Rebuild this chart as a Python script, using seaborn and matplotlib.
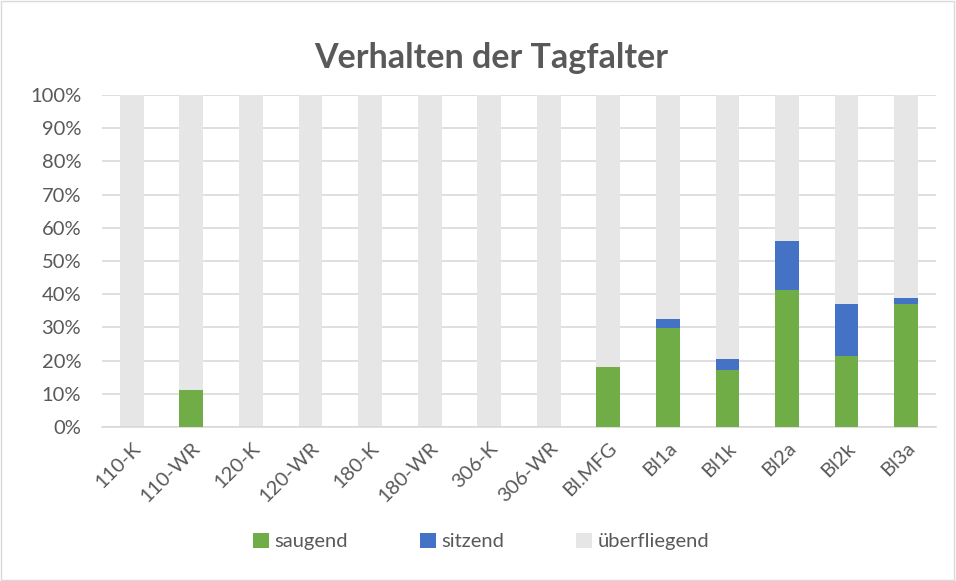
import matplotlib
matplotlib.use("Agg")
import matplotlib.pyplot as plt
import seaborn as sns
import pandas as pd
from matplotlib.patches import Patch, Rectangle
from matplotlib.ticker import PercentFormatter

categories = ["110-K", "110-WR", "120-K", "120-WR", "180-K", "180-WR", "306-K",
              "306-WR", "Bl.MFG", "Bl1a", "Bl1k", "Bl2a", "Bl2k", "Bl3a"]
saugend = [0, 11.1, 0, 0, 0, 0, 0, 0, 18.2, 29.9, 17.1, 41.4, 21.4, 37.1]
sitzend = [0, 0, 0, 0, 0, 0, 0, 0, 0, 2.6, 3.4, 14.7, 15.6, 1.8]
ueberfliegend = [100 - a - b for a, b in zip(saugend, sitzend)]

series_names = ["saugend", "sitzend", "überfliegend"]
colors = ["#70AD47", "#4472C4", "#E7E6E6"]

df = pd.DataFrame({"cat": categories, "saugend": saugend,
                   "sitzend": sitzend, "ueber": ueberfliegend})
df["cum2"] = df["saugend"] + df["sitzend"]
df["cum3"] = df["cum2"] + df["ueber"]

sns.set_theme(style="white")
plt.rcParams["font.family"] = ["Lato", "DejaVu Sans"]
text_col = "#595959"

fig = plt.figure(figsize=(9.56, 5.81), dpi=100)
ax = fig.add_axes([0.1067, 0.265, 0.8723, 0.5715])

w = 0.4
sns.barplot(data=df, x="cat", y="cum3", color=colors[2], width=w, ax=ax,
            saturation=1, linewidth=0, zorder=2)
sns.barplot(data=df, x="cat", y="cum2", color=colors[1], width=w, ax=ax,
            saturation=1, linewidth=0, zorder=3)
sns.barplot(data=df, x="cat", y="saugend", color=colors[0], width=w, ax=ax,
            saturation=1, linewidth=0, zorder=4)

ax.set_ylim(0, 100)
ax.set_xlim(-0.5, len(categories) - 0.5)
ax.set_yticks(range(0, 101, 10))
ax.yaxis.set_major_formatter(PercentFormatter(decimals=0))
ax.grid(axis="y", color="#D9D9D9", linewidth=1.2, zorder=0)
ax.set_axisbelow(True)
for s in ["top", "right", "left"]:
    ax.spines[s].set_visible(False)
ax.spines["bottom"].set_color("#D9D9D9")
ax.spines["bottom"].set_linewidth(1.2)
ax.set_xlabel("")
ax.set_ylabel("")
ax.tick_params(axis="y", length=0, labelsize=14.5, colors=text_col, pad=15)
ax.tick_params(axis="x", length=0, labelsize=14.5, colors=text_col, pad=9)
plt.setp(ax.get_xticklabels(), rotation=45, ha="right", rotation_mode="anchor")

fig.text(0.514, 0.9, "Verhalten der Tagfalter", ha="center", va="center",
         fontsize=24.5, fontweight="bold", color=text_col)

handles = [Patch(facecolor=c, edgecolor="none") for c in colors]
fig.legend(handles, series_names, loc="center", bbox_to_anchor=(0.503, 0.068),
           ncol=3, frameon=False, fontsize=14.5, labelcolor=text_col,
           handlelength=0.8, handleheight=0.8, handletextpad=0.25,
           columnspacing=3.6)

fig.patches.append(Rectangle((0.001, 0.001), 0.997, 0.997, transform=fig.transFigure,
                             fill=False, edgecolor="#D9D9D9", linewidth=1))

fig.savefig("out.png", dpi=100, facecolor="white")
